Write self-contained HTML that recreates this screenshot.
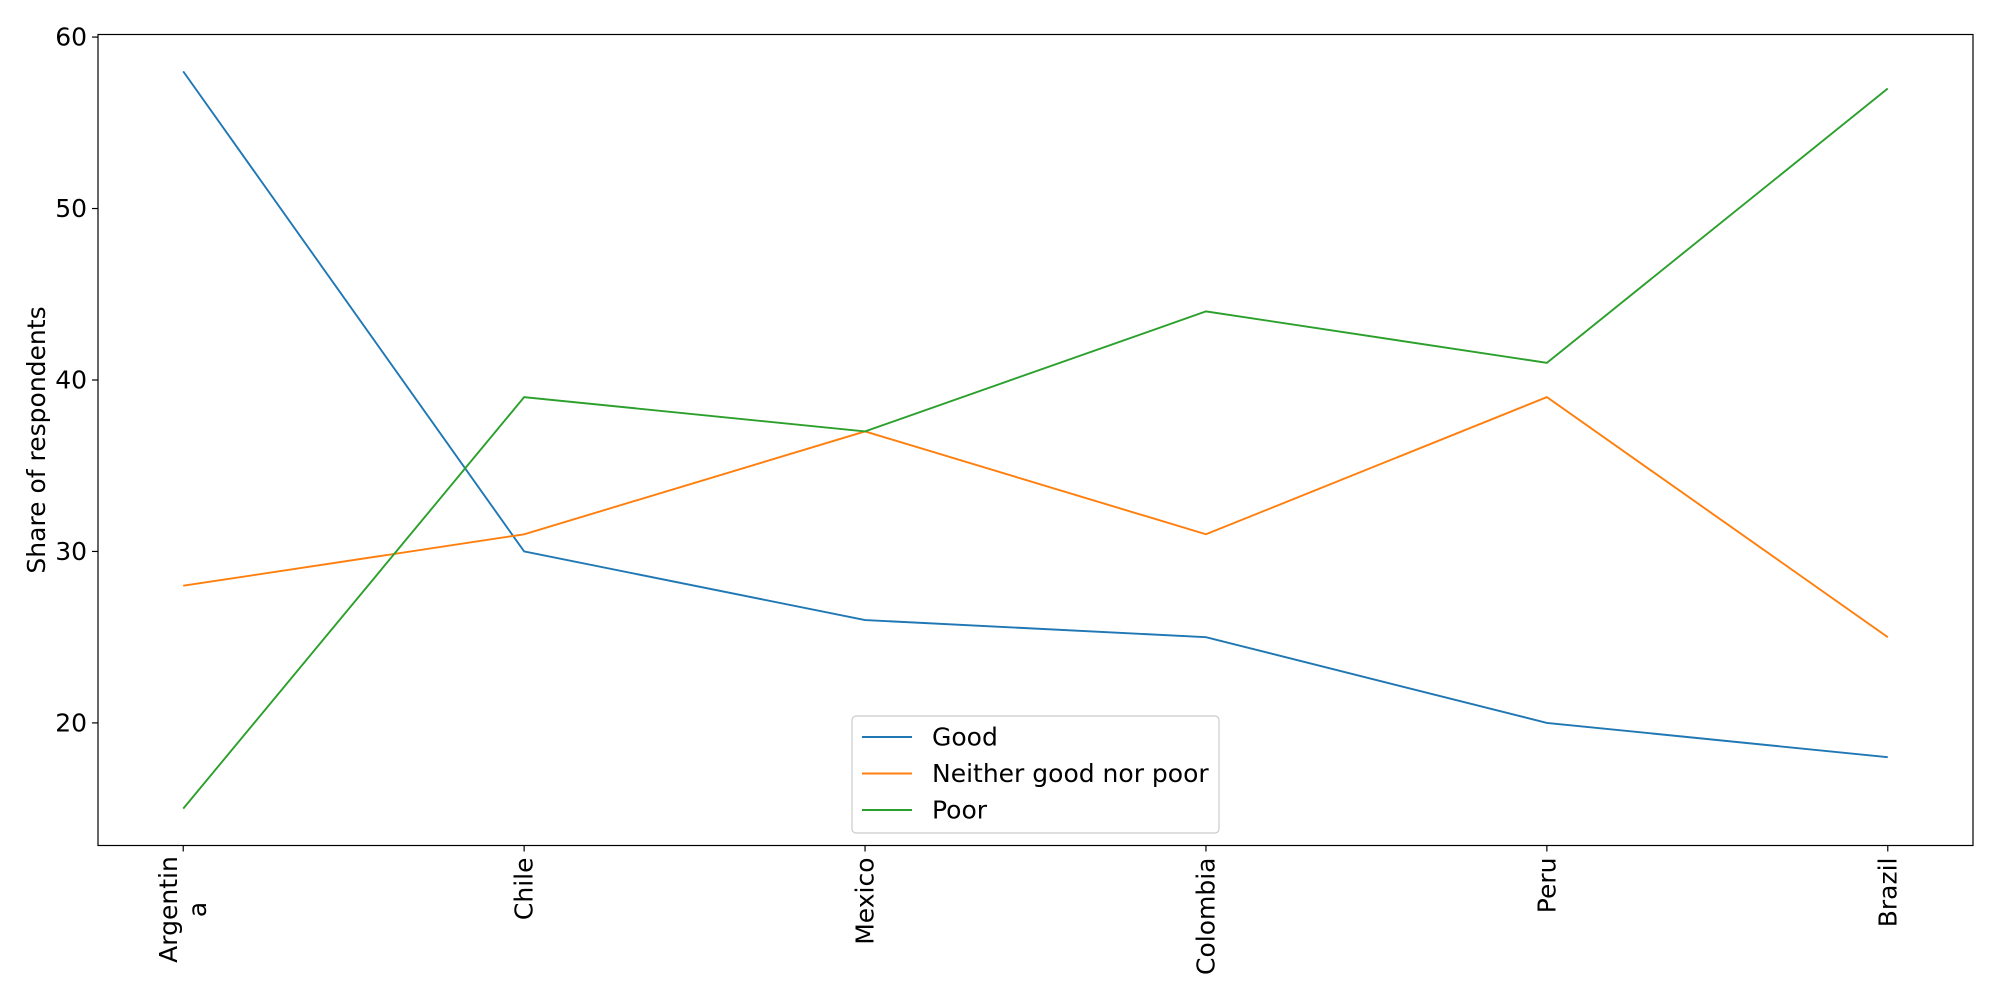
<!DOCTYPE html>
<html><head><meta charset="utf-8"><style>
html,body{margin:0;padding:0;background:#fff;}
svg{display:block;font-family:"DejaVu Sans","Liberation Sans",sans-serif;}
</style></head><body>
<svg id="chart" width="2000" height="1000" viewBox="0 0 2000 1000">
<rect x="0" y="0" width="2000" height="1000" fill="#fff"/>
<g id="grid"></g>
<g id="series"></g>
<g id="axes"></g>
</svg>
<script>
const categories = ["Argentina","Chile","Mexico","Colombia","Peru","Brazil"];
const catLabels = [["Argentin","a"],["Chile"],["Mexico"],["Colombia"],["Peru"],["Brazil"]];
const goodValues = [58,30,26,25,20,18];
const neitherValues = [28,31,37,31,39,25];
const poorValues = [15,39,37,44,41,57];
const yTicks = [20,30,40,50,60];
const seriesNames = ["Good","Neither good nor poor","Poor"];

const L=98,R=1973,T=34.5,B=845.5,FS=25;
const yMin=12.85,yMax=60.15,xMin=-0.25,xMax=categories.length-1+0.25;
const NS="http://www.w3.org/2000/svg";
function xs(i){return L+(i-xMin)/(xMax-xMin)*(R-L);}
function ys(v){return B-(v-yMin)/(yMax-yMin)*(B-T);}
function mk(tag,attrs,parent){const e=document.createElementNS(NS,tag);for(const k in attrs)e.setAttribute(k,attrs[k]);parent.appendChild(e);return e;}
const svg=document.getElementById('chart');
const gS=document.getElementById('series'),gA=document.getElementById('axes');
const colors=["#1f77b4","#ff7f0e","#2ca02c"];
const all=[goodValues,neitherValues,poorValues];
const names=["series-good","series-neither","series-poor"];
all.forEach((vals,si)=>{
  const p=mk('polyline',{points:vals.map((v,i)=>xs(i)+","+ys(v)).join(" "),fill:"none",stroke:colors[si],"stroke-width":1.9},gS);
  
  
});
const frame=mk('rect',{x:L,y:T,width:R-L,height:B-T,fill:"none",stroke:"#000","stroke-width":1.2},gA);


yTicks.forEach(t=>{
  const y=ys(t);
  mk('line',{x1:L-6,x2:L,y1:y,y2:y,stroke:"#000","stroke-width":1.2},gA);
  const tx=mk('text',{x:L-11,y:y,"text-anchor":"end","dominant-baseline":"central","font-size":FS},gA);
  tx.textContent=t;
  
  
});
categories.forEach((c,i)=>{
  const x=xs(i);
  mk('line',{x1:x,x2:x,y1:B,y2:B+6,stroke:"#000","stroke-width":1.2},gA);
  const lines=catLabels[i];
  if(lines.length===1){
    const tx=mk('text',{x:0,y:0,"text-anchor":"end","dominant-baseline":"central","font-size":FS,transform:`translate(${x},${B+12}) rotate(-90)`},gA);
    tx.textContent=lines[0];
    
    
  } else {
    lines.forEach((ln,j)=>{
      const off=(j-(lines.length-1)/2)*29;
      const tx=mk('text',{x:0,y:0,"text-anchor":"middle","dominant-baseline":"central","font-size":FS,transform:`translate(${x+off},${B+12+52}) rotate(-90)`},gA);
      tx.textContent=ln;
      
      
    });
  }
});
const yl=mk('text',{x:0,y:0,"text-anchor":"middle","font-size":FS,transform:`translate(45,${(T+B)/2}) rotate(-90)`},gA);
yl.textContent="Share of respondents";


const lg=mk('g',{},gA);


mk('rect',{x:852,y:716,width:367,height:117,rx:4,fill:"#fff","fill-opacity":0.8,stroke:"#ccc","stroke-width":1.2},lg);
seriesNames.forEach((n,k)=>{
  const y=737+k*36.5;
  mk('line',{x1:862,x2:912,y1:y,y2:y,stroke:colors[k],"stroke-width":1.9},lg);
  const tx=mk('text',{x:932,y:y,"dominant-baseline":"central","font-size":FS},lg);
  tx.textContent=n;
  
  
});
</script>
</body></html>
